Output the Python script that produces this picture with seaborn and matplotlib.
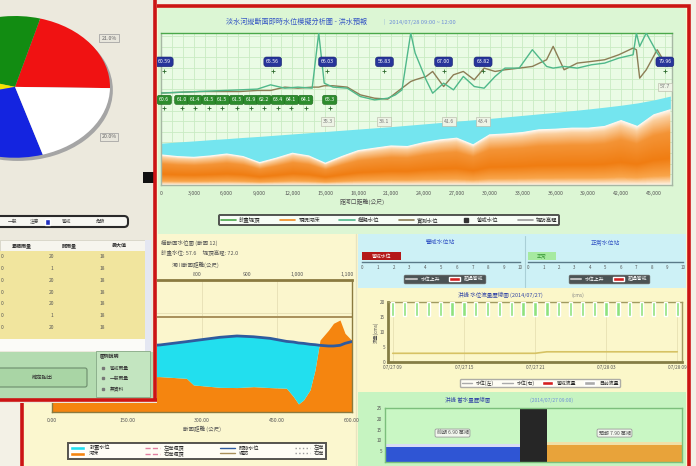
import numpy as np
import matplotlib
matplotlib.use("Agg")
import matplotlib.pyplot as plt
import seaborn as sns
from matplotlib.patches import Rectangle, FancyBboxPatch, Patch
from matplotlib.lines import Line2D
from matplotlib.colors import LinearSegmentedColormap

# ---------------- data ----------------
# pie: share of stations by alert colour
pie_labels = ["紅色", "綠色", "黃色", "藍色", "白色"]
pie_share = [21, 25, 8, 26, 20]
pie_colors = ["#f01212", "#128c12", "#f2e200", "#1424e0", "#ffffff"]

# rain-gauge table
table_head = ["雨量站", "累積雨量", "時雨量", "最大值"]
table_acc = [20, 1, 20, 20, 20, 1, 20]
table_hr = [18, 18, 18, 18, 18, 18, 18]

# longitudinal profile (distance from river mouth, m)
prof_x = [0, 1500, 3000, 4500, 6000, 7500, 9000, 10500, 12000, 13500, 15000,
          16500, 18000, 19500, 21000, 22500, 24000, 25500, 27000, 28500,
          30000, 31500, 33000, 34500, 36000, 37500, 39000, 40500, 42000,
          43500, 45000, 46500]
bed_top = [19.8, 18.7, 18.2, 19.1, 20.4, 18.7, 14.7, 17.6, 20.9, 19.1, 14.3,
           18.7, 22.6, 24.2, 25.7, 25.3, 27.9, 29.7, 30.8, 26.4, 33.0, 33.6,
           34.5, 36.3, 36.7, 37.4, 37.4, 38.5, 42.4, 38.5, 46.2, 49.5]
flood_top = [27.5, 28.3, 29.0, 29.8, 30.5, 31.3, 32.0, 32.8, 33.6, 34.4, 35.2,
             36.0, 36.8, 37.6, 38.4, 39.3, 40.2, 41.1, 42.0, 42.9, 43.8, 44.8,
             45.8, 46.8, 47.8, 48.9, 50.0, 51.2, 52.5, 54.0, 56.0, 58.5]

lvl_x = [0, 3500, 7200, 8800, 10000, 11300, 12500, 13800, 14400, 14900, 15700,
         17000, 18200, 19500, 20700, 21400, 22000, 22800, 23200, 24200, 24800,
         25800, 26700, 27600, 28600, 29500, 30500, 31400, 32700, 33900, 35200,
         35800, 36800, 38000, 39300, 40500, 41800, 43100, 43400, 43700, 44300,
         45300, 46200]
sim_level = [60.5, 61.5, 62.6, 63.1, 65.9, 63.7, 64.4, 63.7, 100.0, 67.0, 64.4,
             63.7, 58.2, 56.0, 57.1, 59.3, 62.6, 100.0, 86.8, 69.2, 60.4, 67.0,
             62.6, 71.4, 64.8, 63.7, 71.4, 76.9, 76.9, 89.0, 78.0, 76.9, 78.0,
             76.9, 79.1, 80.2, 83.5, 85.7, 100.0, 91.2, 100.0, 86.8, 78.0]
obs_level = [60.5, 61.5, 61.5, 62.2, 62.2, 64.4, 63.7, 64.4, 64.4, 65.3, 65.3,
             64.4, 59.3, 57.1, 56.5, 60.4, 63.7, 68.1, 69.2, 71.4, 74.7, 64.8,
             72.5, 74.7, 69.2, 76.9, 74.7, 75.8, 76.9, 78.0, 82.4, 91.2, 75.8,
             80.2, 81.3, 82.4, 85.7, 90.1, 89.0, 70.3, 75.8, 89.0, 78.0]

# gauge stations tagged on the profile
gauge_x = [300, 10200, 15200, 20400, 25800, 29400, 46000]
bridge_x = [300, 1900, 3100, 4400, 5600, 6900, 8200, 9400, 10700, 11900, 13200, 15400]
peak_x = [15200, 20400, 26300, 29400]

# cross section
cs_x = [0, 50, 100, 150, 216, 269, 283, 336, 370, 403, 436, 469, 483, 493,
        503, 516, 526, 536, 553, 563, 576, 586, 599]
cs_bed = [30, 28, 27, 27, 26.8, 25.5, 20.5, 18.7, 18.5, 19.2, 18.5, 18.0, 11.6,
          6.1, 9.1, 16.7, 31.8, 54.5, 62.0, 67.2, 69.7, 59.6, 54.5]
cs_water = [46, 47, 48, 49.5, 50.8, 53.3, 54, 56.6, 57.6, 57, 55.8, 53.5, 53,
            52.3, 52, 51.3, 51, 50.5, 50, 50, 50.5, 52, 53.3]
cs_levee = 72

# alert strips
warn_level = 2.5
safe_level = 1.8

# hydrograph
hours = list(range(25))
rain_mm = [14] * 25
stage = [2.9] * 13 + [3.4] * 12
hour_ticks = [0, 6, 12, 18, 24]
hour_labels = ["07/27 09", "07/27 15", "07/27 21", "07/28 03", "07/28 09"]

# storage bars
seg_name = ["前期", "現在", "預報"]
seg_start = [0, 10, 12]
seg_width = [10, 2, 10]
seg_height = [6.9, 25.0, 7.9]
seg_extra = [1.4, 0.0, 1.2]

# ---------------- figure ----------------
sns.set_theme(style="white")
plt.rcParams["font.family"] = ["Noto Sans CJK TC", "DejaVu Sans"]
plt.rcParams["axes.unicode_minus"] = False

W, H = 696, 466
fig = plt.figure(figsize=(W / 100, H / 100), dpi=100)


def rect(x0, y0, x1, y1):
    return [x0 / W, 1 - y1 / H, (x1 - x0) / W, (y1 - y0) / H]


def box(ax, x0, y0, x1, y1, **kw):
    kw.setdefault("ec", "none")
    ax.add_patch(Rectangle((x0, y0), x1 - x0, y1 - y0, **kw))


def ftext(x, y, s, **kw):
    kw.setdefault("fontsize", 4.2)
    kw.setdefault("zorder", 6)
    return fig.text(x / W, 1 - y / H, s, **kw)


BLUE_T = "#3556c4"

bg = fig.add_axes([0, 0, 1, 1], zorder=0)
bg.set_xlim(0, W)
bg.set_ylim(H, 0)
bg.axis("off")
box(bg, 0, 0, W, H, fc="#f3f1e6")
box(bg, 22, 6, 689, 470, fc="#fbf7cf")
box(bg, 158, 8, 686, 234, fc="#dcf6d4")
box(bg, 358, 234, 686, 288, fc="#cdf1f6")
box(bg, 358, 288, 686, 392, fc="#fbf7c9")
box(bg, 358, 392, 686, 470, fc="#c6f4c1")
bg.plot([525, 525], [236, 287], color="#a9cfd6", lw=0.8)
bg.plot([356, 356], [234, 470], color="#e8e4c0", lw=1)
box(bg, 22, 6, 689, 470, fc="none", ec="#cc1414", lw=2.6)

# ---- longitudinal profile ----
top = fig.add_axes(rect(161, 33, 672, 185), zorder=2)
top.set_facecolor("#eafbe5")
XL = (0, 46650)
px = np.array(prof_x, float)
pb = np.array(bed_top, float)
top.fill_between(prof_x, bed_top, flood_top, color="#74e5ef", lw=0, zorder=1.5)
shape = top.fill_between(prof_x, 0, bed_top, color="none", lw=0)
org = LinearSegmentedColormap.from_list(
    "org", [(0, "#fff3e4"), (0.12, "#f9a54a"), (0.35, "#f07d12"),
            (0.7, "#f49436"), (0.92, "#fbd0a0"), (1.0, "#fff6ec")])
gx = np.linspace(XL[0], XL[1], 500)
gy = np.linspace(0, 100, 300)
GX, GY = np.meshgrid(gx, gy)
frac = np.clip(GY / np.interp(GX, px, pb), 0, 1)
img = top.imshow(frac, extent=[XL[0], XL[1], 0, 100], origin="lower",
                 aspect="auto", cmap=org, vmin=0, vmax=1, zorder=1.6)
img.set_clip_path(shape.get_paths()[0], transform=top.transData)
top.plot(prof_x, bed_top, color="#fff7ee", lw=0.8, zorder=1.7)
sns.lineplot(x=lvl_x, y=obs_level, ax=top, color="#8c7d55", lw=1.0,
             sort=False, zorder=3)
sns.lineplot(x=lvl_x, y=sim_level, ax=top, color="#4fb88a", lw=1.0,
             sort=False, zorder=3.1)
top.set_xlim(*XL)
top.set_ylim(0, 100)
top.set_xticks(np.arange(0, 45001, 3000))
top.set_xticklabels([f"{v:,}" for v in range(0, 45001, 3000)], fontsize=3.8,
                    color="#555")
top.set_xticks(np.arange(0, 46001, 1000), minor=True)
top.set_yticks(np.arange(0, 100, 7))
top.tick_params(axis="both", which="both", length=0, labelleft=False, pad=4)
top.grid(which="both", color="#c9ebc3", lw=0.6)
for s, c in [("top", "#4aa84a"), ("bottom", "#a7b7a4"), ("right", "#a7b7a4"),
             ("left", "#a7b7a4")]:
    top.spines[s].set_color(c)
    top.spines[s].set_linewidth(1)

lab_kw = dict(fontsize=3.8, ha="center", va="center", zorder=5)
for gxv in gauge_x:
    v = np.interp(gxv, lvl_x, sim_level)
    top.text(gxv, 81, f"{v:.2f}", color="white",
             bbox=dict(boxstyle="round,pad=0.45,rounding_size=0.5",
                       fc="#27349a", ec="#1b2470", lw=0.4), **lab_kw)
    top.plot([gxv], [75], marker="+", color="#2d6a2d", ms=2.5, mew=0.6, zorder=5)
for bxv in bridge_x:
    v = np.interp(bxv, lvl_x, obs_level)
    top.text(bxv, 56, f"{v:.1f}", color="white",
             bbox=dict(boxstyle="round,pad=0.4", fc="#2d8c2d", ec="#1f6a1f",
                       lw=0.4), **lab_kw)
    top.plot([bxv], [50.5], marker="+", color="#2d6a2d", ms=2.5, mew=0.6, zorder=5)
for pxv in peak_x:
    v = np.interp(pxv, prof_x, flood_top)
    top.text(pxv, 42, f"{v:.1f}", color="#777",
             bbox=dict(boxstyle="square,pad=0.35", fc="#eef4e6", ec="#b4b4a4",
                       lw=0.4), **lab_kw)
v_end = np.interp(46000, prof_x, flood_top)
top.text(46000, 64.5, f"{v_end:.1f}", color="#777",
         bbox=dict(boxstyle="square,pad=0.35", fc="#eef4e6", ec="#b4b4a4", lw=0.4),
         **lab_kw)

ftext(226, 22, "淡水河縱斷面即時水位模擬分析圖 - 洪水預報", color=BLUE_T,
      fontsize=5.1, va="center")
ftext(382, 22, "｜ 2014/07/28 09:00 ~ 12:00", color="#6f8fd8", fontsize=4.2,
      va="center")
ftext(362, 202, "距河口距離(公尺)", color="#555", fontsize=4.2, ha="center",
      va="center")

top_handles = [Line2D([], [], color="#4aa84a", lw=1.2),
               Line2D([], [], color="#f08a20", lw=1.2),
               Line2D([], [], color="#4fb88a", lw=1.2),
               Line2D([], [], color="#8c7d55", lw=1.2),
               Line2D([], [], color="#333", marker="s", ls="", ms=3),
               Line2D([], [], color="#999", lw=1.2)]
top_labels = ["計畫堤頂", "現況河床", "模擬水位", "實測水位", "警戒水位", "堤防高程"]
leg = top.legend(top_handles, top_labels, loc="center", ncol=6, fontsize=3.9,
                 bbox_to_anchor=(389 / W, 1 - 220 / H),
                 bbox_transform=fig.transFigure, frameon=True, fancybox=True,
                 handlelength=2.8, columnspacing=3.6, borderpad=0.35,
                 handletextpad=0.6)
leg.get_frame().set_edgecolor("#2a2a2a")
leg.get_frame().set_linewidth(1.4)
leg.get_frame().set_facecolor("white")

# ---- cross section ----
cs = fig.add_axes(rect(52, 280, 352, 412), zorder=2)
cs.set_facecolor("#fbf6cd")
cs.fill_between(cs_x, 0, cs_bed, color="#f5850f", lw=0, zorder=2)
cw = np.array(cs_water)
cb = np.array(cs_bed)
cs.fill_between(cs_x, cs_bed, cs_water, where=cw > cb, interpolate=True,
                color="#22dfee", lw=0, zorder=2)
sns.lineplot(x=cs_x, y=cs_water, ax=cs, color="#2f5b9e", lw=2.0, sort=False,
             zorder=3)
cs.axhline(cs_levee, color="#a8905a", lw=1.4, zorder=2.5)
cs.set_xlim(0, 600)
cs.set_ylim(0, 100)
cs.set_xticks([0, 150, 300, 450, 600])
cs.set_xticklabels([f"{v:,.2f}" for v in [0, 150, 300, 450, 600]], fontsize=3.8,
                   color="#555")
cs.set_yticks([25, 50, 75])
cs.tick_params(length=0, labelleft=False, pad=4)
cs.grid(color="#e6dfb4", lw=0.6)
for s in cs.spines.values():
    s.set_color("#8a7a40")
    s.set_linewidth(1)
cs.spines["top"].set_linewidth(2)
sec = cs.secondary_xaxis("top", functions=(lambda v: v + 510, lambda v: v - 510))
sec.set_xticks([800, 900, 1000, 1100])
sec.set_xticklabels(["800", "900", "1,000", "1,100"], fontsize=3.8, color="#555")
sec.tick_params(length=0, pad=2)
sec.spines["top"].set_visible(False)

ftext(161, 243, "橫斷面水位圖 (斷面 12)", color="#555", fontsize=4.0, va="center")
ftext(161, 253, "計畫水位: 57.6     堤頂高程: 72.0", color="#555", fontsize=4.0,
      va="center")
ftext(172, 265, "河川斷面距離(公尺)", color="#555", fontsize=4.0, va="center")
ftext(202, 429, "斷面距離 (公尺)", color="#555", fontsize=4.0, ha="center",
      va="center")

cs_handles = [Patch(fc="#22dfee"), Patch(fc="#f5850f"),
              Line2D([], [], color="#e080a0", ls="--", lw=1),
              Line2D([], [], color="#e080a0", ls="--", lw=1),
              Line2D([], [], color="#2f5b9e", lw=1),
              Line2D([], [], color="#a8905a", lw=1),
              Line2D([], [], color="#999", ls=":", lw=1),
              Line2D([], [], color="#999", ls=":", lw=1)]
cs_labels = ["計畫水位", "河床", "左岸堤頂", "右岸堤頂", "即時水位", "堤防", "左岸", "右岸"]
leg2 = cs.legend(cs_handles, cs_labels, loc="center", ncol=4, fontsize=3.7,
                 bbox_to_anchor=(197 / W, 1 - 451 / H),
                 bbox_transform=fig.transFigure, frameon=True, fancybox=False,
                 handlelength=3.0, columnspacing=6.8, borderpad=0.3,
                 labelspacing=0.15, handleheight=0.8)
leg2.get_frame().set_edgecolor("#2a2a2a")
leg2.get_frame().set_linewidth(1.4)
leg2.get_frame().set_facecolor("white")

# ---- alert strips ----
for rx, title, val, fc, tc, lbl in [
        ((362, 520), "警戒水位站", warn_level, "#b41818", "white", "警戒水位"),
        ((528, 683), "正常水位站", safe_level, "#a6eaa0", "#3a9a3a", "正常")]:
    sa = fig.add_axes(rect(rx[0], 250, rx[1], 262), zorder=2)
    sa.set_facecolor("none")
    sa.barh([0.5], [val], height=0.7, left=0, color=fc, ec="none")
    sa.text(val / 2, 0.5, lbl, color=tc, fontsize=3.5, ha="center", va="center")
    sa.set_xlim(0, 10)
    sa.set_ylim(0, 1)
    sa.set_xticks(range(11))
    sa.set_xticklabels([str(i) for i in range(11)], fontsize=3.2, color="#555")
    sa.set_yticks([])
    sa.tick_params(length=1.5, pad=1, color="#555")
    for s in ["top", "left", "right"]:
        sa.spines[s].set_visible(False)
    sa.spines["bottom"].set_color("#5a7a88")
    sa.spines["bottom"].set_linewidth(1)
    ftext((rx[0] + rx[1]) / 2, 242, title, color=BLUE_T, fontsize=4.2,
          ha="center", va="center")
    sl = sa.legend([Line2D([], [], color="#bbb", lw=1.5), Patch(fc="#d42020")],
                   ["水位上升", "超過警戒"], loc="center", ncol=2, fontsize=3.5,
                   bbox_to_anchor=((rx[0] + rx[1]) / 2 / W + 0.005, 1 - 279 / H),
                   bbox_transform=fig.transFigure, frameon=True, labelcolor="white",
                   handlelength=2.2, columnspacing=1.8, borderpad=0.35)
    sl.get_frame().set_facecolor("#2b2b2b")
    sl.get_frame().set_edgecolor("#555")

# ---- hydrograph ----
hy = fig.add_axes(rect(388, 302, 682, 362), zorder=2)
hy.set_facecolor("#fbf7cb")
sns.lineplot(x=hours, y=stage, ax=hy, color="#d6c264", lw=1.2, zorder=3)
hy.set_xlim(-0.4, 24.4)
hy.set_ylim(0, 20)
hy.set_xticks(hour_ticks)
hy.set_xticklabels(hour_labels, fontsize=3.4, color="#555")
hy.set_yticks([0, 5, 10, 15, 20])
hy.set_yticklabels(["0", "5", "10", "15", "20"], fontsize=3.4, color="#555")
hy.tick_params(length=0, pad=2)
hy.grid(axis="x", color="#e7e1b2", lw=0.6)
for s in hy.spines.values():
    s.set_color("#a09a60")
    s.set_linewidth(1)
hy.spines["left"].set_linewidth(2)
hy.spines["bottom"].set_linewidth(2)
hy.spines["left"].set_color("#857d45")
hy.spines["bottom"].set_color("#857d45")
hy.set_ylabel("流量(cms)", fontsize=3.4, color="#555", labelpad=1)
rain = hy.twinx()
rain.bar(hours, rain_mm, width=0.28, color="#8ee27e", align="center", zorder=2)
rain.set_ylim(60, 0)
rain.set_yticks([])
for s in rain.spines.values():
    s.set_visible(False)
ftext(458, 295, "洪峰 水位流量歷線圖 (2014/07/27)", color="#3346a6", fontsize=4.0,
      va="center")
ftext(572, 295, "(cms)", color="#888", fontsize=3.6, va="center")
hl = hy.legend([Line2D([], [], color="#aaa", lw=1), Line2D([], [], color="#aaa", lw=1),
                Patch(fc="#d42020"), Patch(fc="#aaa")],
               ["水位(左)", "水位(右)", "警戒流量", "目前流量"], loc="center",
               ncol=4, fontsize=3.5, bbox_to_anchor=(540 / W, 1 - 383 / H),
               bbox_transform=fig.transFigure, frameon=True, handlelength=2.2,
               columnspacing=1.6, borderpad=0.3)
hl.get_frame().set_edgecolor("#999")
hl.get_frame().set_facecolor("white")

# ---- storage bars ----
st = fig.add_axes(rect(385, 408, 682, 462), zorder=2)
st.set_facecolor("#c9f7c4")
st.bar(seg_start, seg_height, width=seg_width, align="edge",
       color=["#2f55d4", "#262626", "#e8a33a"], lw=0)
st.bar(seg_start, seg_extra, width=seg_width, bottom=seg_height, align="edge",
       color=["#d8dcf4", "#262626", "#f0e0a8"], lw=0)
st.set_xlim(0, 22)
st.set_ylim(0, 25)
st.set_xticks([])
st.set_yticks([5, 10, 15, 20, 25])
st.set_yticklabels(["5", "10", "15", "20", "25"], fontsize=3.4, color="#555")
st.tick_params(length=0, pad=2)
for s in st.spines.values():
    s.set_color("#7cbf7c")
    s.set_linewidth(1)
for xs, w, h, n in zip(seg_start, seg_width, seg_height, seg_name):
    if w > 5:
        st.text(xs + w / 2, 13.4, f"{n} {h:.2f} 萬噸", fontsize=3.6, color="#555",
                ha="center", va="center",
                bbox=dict(boxstyle="round,pad=0.3", fc="#f2f6ee", ec="#9a9a9a",
                          lw=0.6))
ftext(445, 400, "洪峰 蓄水量歷線圖", color="#3346a6", fontsize=4.0, va="center")
ftext(530, 400, "(2014/07/27 09:00)", color="#6f8fd8", fontsize=3.6, va="center")

# ---- left overlay panel ----
lp = fig.add_axes(rect(0, 0, 157, 403), zorder=10)
lp.set_xlim(0, 157)
lp.set_ylim(403, 0)
lp.axis("off")
box(lp, 0, 0, 157, 403, fc="#ece9dd")
lp.add_patch(FancyBboxPatch((-6, 216), 134, 11,
                            boxstyle="round,pad=0,rounding_size=4",
                            fc="#f7f7f2", ec="#2a2a2a", lw=1.5))
for x, s in [(8, "一般"), (30, "注意"), (62, "警戒"), (96, "危險")]:
    lp.text(x, 221.5, s, fontsize=3.4, color="#444", va="center")
lp.add_patch(Rectangle((45, 218.5), 5, 6, fc="#2030c0"))
box(lp, 0, 240, 149, 251, fc="#f6f5ee", ec="#d0cfc0", lw=0.5)
for x, s in [(12, table_head[1]), (62, table_head[2]), (112, table_head[3])]:
    lp.text(x, 245.5, s, fontsize=3.6, color="#333", va="center", weight="bold")
box(lp, 0, 251, 145, 339, fc="#f1e59e")
for i, (a, b) in enumerate(zip(table_acc, table_hr)):
    yy = 257 + i * 11.7
    lp.text(1, yy, "0", fontsize=3.5, color="#555", va="center")
    lp.text(52, yy, str(a), fontsize=3.5, color="#555", va="center", ha="center")
    lp.text(102, yy, str(b), fontsize=3.5, color="#555", va="center", ha="center")
box(lp, 0, 339, 145, 351, fc="#fbfbf8")
box(lp, 145, 240, 151, 351, fc="#e4e7f2")
box(lp, 0, 352, 153, 401, fc="#b3dbb0")
lp.add_patch(FancyBboxPatch((-6, 368), 93, 19, boxstyle="round,pad=0,rounding_size=2",
                            fc="#a9d5a5", ec="#6c8c6c", lw=0.8))
lp.text(42, 377.5, "確定輸出", fontsize=3.8, color="#333", ha="center", va="center")
box(lp, 96, 351, 150, 397, fc="#c3e5c0", ec="#86a886", lw=0.6)
lp.text(100, 357, "圖例說明", fontsize=3.5, color="#333", va="center", weight="bold")
for yy, s in [(368, "警戒雨量"), (378, "一般雨量"), (389, "無資料")]:
    lp.text(110, yy, s, fontsize=3.4, color="#333", va="center")
    lp.plot([103], [yy], marker="s", ms=1.6, color="#777")
box(lp, 143, 172, 154, 183, fc="#111111")
lp.plot([155.2, 155.2], [0, 401], color="#cc1414", lw=2.6, solid_capstyle="butt")
lp.plot([0, 156.5], [400.2, 400.2], color="#cc1414", lw=2.6, solid_capstyle="butt")

# pie (stretched into an ellipse)
pa = fig.add_axes(rect(-80, 16, 110, 162), zorder=11)
pa.pie([1], colors=["#a5a5a5"], radius=1.0, center=(0.03, -0.045),
       wedgeprops=dict(lw=0))
pa.pie(pie_share, colors=pie_colors, startangle=-1, counterclock=True,
       radius=1.0, wedgeprops=dict(lw=0))
pa.set_aspect("auto")
pa.set_xlim(-1.0, 1.0)
pa.set_ylim(-1.06, 1.0)
pa.axis("off")
for yy, idx in [(38, 0), (137, 4)]:
    ftext(109, yy, f"{pie_share[idx]:.1f}%", fontsize=3.8, color="#666",
          ha="center", va="center", zorder=30,
          bbox=dict(boxstyle="square,pad=0.35", fc="#e8e6dc", ec="#999", lw=0.5))

fig.savefig("out.png", dpi=100)
